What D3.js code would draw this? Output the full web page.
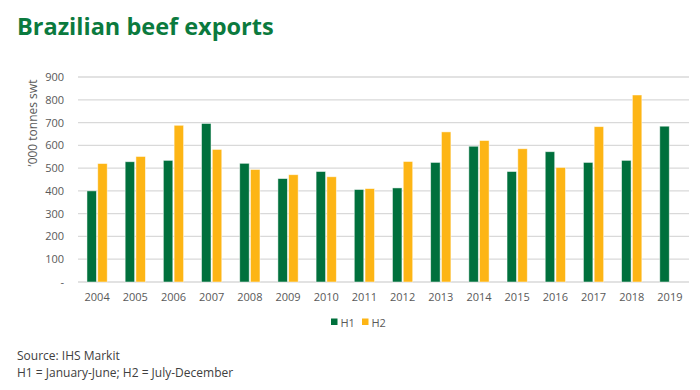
<!DOCTYPE html>
<html><head><meta charset="utf-8">
<script src="https://cdn.jsdelivr.net/npm/d3@7"></script>
<style>
body{margin:0;background:#fff;}
text{font-family:"Open Sans",sans-serif;}
</style></head>
<body><svg id="c" width="700" height="390"></svg>
<script>
const years = ["2004","2005","2006","2007","2008","2009","2010","2011","2012","2013","2014","2015","2016","2017","2018","2019"];
const h1 = [400,528,534,696,521,454,485,406,413,525,596,485,572,525,534,684];
const h2 = [520,551,688,582,494,471,462,410,529,659,621,585,503,682,821,null];
const seriesNames = ["H1","H2"];
const colors = ["#00703C","#FDB515"];
const yTicks = [0,100,200,300,400,500,600,700,800,900];

const svg = d3.select("#c");
const L=78, R=689, T=77, B=282;
const x0 = d3.scaleBand().domain(years).range([L,R]).paddingInner(0.47).paddingOuter(0.235);
const x1 = d3.scaleBand().domain(seriesNames).range([0,x0.bandwidth()]).paddingInner(0.12);
const y = d3.scaleLinear().domain([0,900]).range([B,T]);

// gridlines
svg.append("g").selectAll("line").data(yTicks).join("line")
  .attr("x1",L).attr("x2",R).attr("y1",d=>y(d)).attr("y2",d=>y(d))
  .attr("stroke","#d9d9d9").attr("stroke-width",1.3);

// y axis labels
const ya = svg.append("g").attr("transform",`translate(${L},0)`)
  .call(d3.axisLeft(y).tickValues(yTicks).tickSize(0).tickPadding(14).tickFormat(d=>d===0?"-":d));
ya.select(".domain").remove();
ya.selectAll("text").attr("fill","#595959").style("font-size","11px").style("font-family","Open Sans");

// x axis labels
const xa = svg.append("g").attr("transform",`translate(0,${B})`)
  .call(d3.axisBottom(x0).tickSize(0).tickPadding(11));
xa.select(".domain").remove();
xa.selectAll("text").attr("fill","#595959").style("font-size","11px").style("font-family","Open Sans");

// bars
const data = years.map((yr,i)=>({yr, vals:[h1[i],h2[i]]}));
svg.append("g").selectAll("g").data(data).join("g")
  .attr("transform",d=>`translate(${x0(d.yr)},0)`)
  .selectAll("rect").data(d=>d.vals.map((v,j)=>({v,j})).filter(e=>e.v!=null)).join("rect")
  .attr("x",e=>x1(seriesNames[e.j])).attr("width",x1.bandwidth())
  .attr("y",e=>y(e.v)).attr("height",e=>B-y(e.v))
  .attr("fill",e=>colors[e.j]).attr("stroke","#ffffff").attr("stroke-opacity",0.6).attr("stroke-width",0.8);

// title
svg.append("text").attr("x",17).attr("y",35).text("Brazilian beef exports")
  .attr("fill","#0B7A3E").style("font-size","23.5px").style("font-weight","bold");

// y title
svg.append("text").attr("transform","translate(37,123) rotate(-90)").attr("text-anchor","middle")
  .text("\u2019000 tonnes swt").attr("fill","#595959").style("font-size","12px");

// legend
const lg = svg.append("g");
const legX=[331,362];
seriesNames.forEach((s,i)=>{
  lg.append("rect").attr("x",legX[i]).attr("y",318.5).attr("width",6.5).attr("height",6.5).attr("fill",colors[i]);
  lg.append("text").attr("x",legX[i]+9.5).attr("y",326.5).text(s).attr("fill","#595959").style("font-size","11px");
});

// footnotes
svg.append("text").attr("x",17).attr("y",360).text("Source: IHS Markit").attr("fill","#404040").style("font-size","12px");
svg.append("text").attr("x",17).attr("y",377).text("H1 = January-June; H2 = July-December").attr("fill","#404040").style("font-size","12px");
</script></body></html>
